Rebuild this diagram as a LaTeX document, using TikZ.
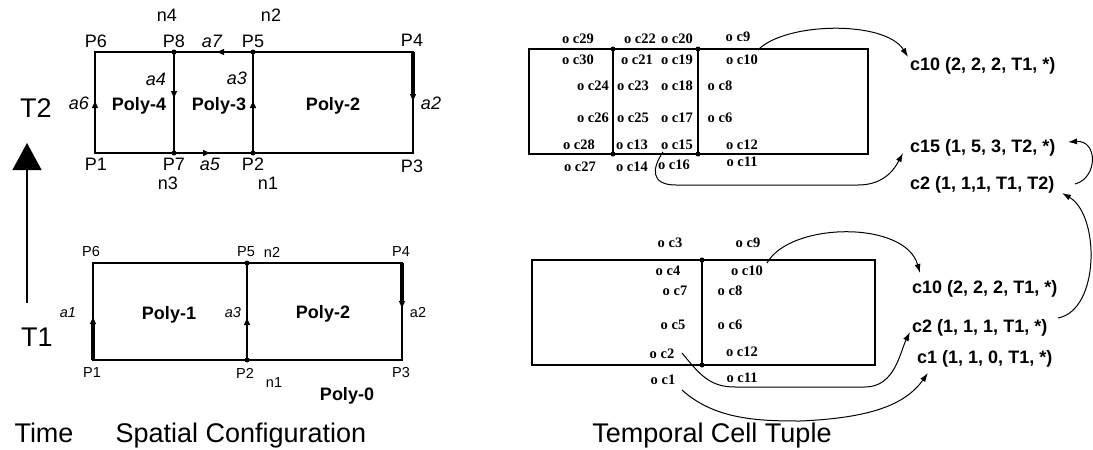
\documentclass[tikz,border=0pt]{standalone}
\usepackage{fontspec}
\setmainfont{Liberation Sans}
\newfontfamily\cellserif{Liberation Serif}
\usetikzlibrary{arrows.meta}
\begin{document}
\begin{tikzpicture}[x=1pt,y=-1pt,
  edge/.style={line width=1.3pt},
  thk/.style={line width=3.4pt},
  etip/.style={line width=1.3pt,-{Triangle[width=6pt,length=7pt]}},
  conn/.style={line width=1pt,-{Latex[length=9pt,width=6pt]}},
  lblt/.style={font=\fontsize{18}{18}\selectfont, inner sep=0pt},
  lblb/.style={font=\fontsize{14.5}{14.5}\selectfont, inner sep=0pt},
  poly/.style={font=\bfseries\fontsize{18}{18}\selectfont, inner sep=0pt, anchor=base},
  cell/.style={font=\cellserif\bfseries\fontsize{14.5}{14.5}\selectfont, inner sep=0pt},
  tup/.style={font=\bfseries\fontsize{18}{18}\selectfont, inner sep=0pt, anchor=base west},
  big/.style={font=\fontsize{27}{27}\selectfont, inner sep=0pt},
  dot/.style={circle, fill, inner sep=0pt, minimum size=5pt}]
\useasboundingbox (0,0) rectangle (1093,450);

% ---------- time axis ----------
\coordinate (ax0) at (27,303);
\coordinate (ax1) at (27,143);
\draw[line width=1.3pt,-{Triangle[width=29pt,length=27pt]}] (ax0) -- (ax1);
\node[big] (T2) at (36,108) {T2};
\node[big] (T1) at (37,337) {T1};
\node[big,anchor=base] (time) at (44,442) {Time};
\node[big,anchor=base] (spat) at (241,442) {Spatial Configuration};
\node[big,anchor=base] (temp) at (712,442) {Temporal Cell Tuple};

% ---------- T2 spatial configuration ----------
\coordinate (tP1) at (95,153);
\coordinate (tP7) at (174,153);
\coordinate (tP2) at (253,153);
\coordinate (tP3) at (413,153);
\coordinate (tP4) at (413,52);
\coordinate (tP5) at (253,52);
\coordinate (tP8) at (174,52);
\coordinate (tP6) at (95,52);
\draw[edge] (tP1) -- (tP3) -- (tP4) -- (tP6) -- cycle;
\draw[edge] (tP7) -- (tP8);
\draw[edge] (tP2) -- (tP5);
\coordinate (ta6) at (95,101);
\coordinate (ta4) at (174,98);
\coordinate (ta3) at (253,101);
\coordinate (ta7) at (217,52);
\coordinate (ta5) at (210,153);
\coordinate (ta2) at (413,101);
\draw[thk] (tP4) -- (413,94);
\draw[etip] (tP1) -- (ta6);
\draw[etip] (tP8) -- (ta4);
\draw[etip] (tP2) -- (ta3);
\draw[etip] (tP5) -- (ta7);
\draw[etip] (tP7) -- (ta5);
\draw[etip] (tP4) -- (ta2);
\foreach \p in {tP8,tP5,tP7,tP2} \node[dot] at (\p) {};

\node[lblt] (tn4) at (167,15) {n4};
\node[lblt] (tn2) at (271,15) {n2};
\node[lblt] (tlP6) at (96,41) {P6};
\node[lblt] (tlP8) at (174,41) {P8};
\node[lblt] (tla7) at (212,41) {\itshape a7};
\node[lblt] (tlP5) at (253,41) {P5};
\node[lblt] (tlP4) at (412,40) {P4};
\node[lblt] (tlP1) at (96,164) {P1};
\node[lblt] (tlP7) at (174,164) {P7};
\node[lblt] (tla5) at (210,164) {\itshape a5};
\node[lblt] (tlP2) at (253,164) {P2};
\node[lblt] (tlP3) at (412,166) {P3};
\node[lblt] (tn3) at (168,183) {n3};
\node[lblt] (tn1) at (268,183) {n1};
\node[lblt] (tla6) at (79,103) {\itshape a6};
\node[lblt] (tla4) at (156,79) {\itshape a4};
\node[lblt] (tla3) at (237,78) {\itshape a3};
\node[lblt] (tla2) at (431,103) {\itshape a2};
\node[poly] (tp4) at (139,110) {Poly-4};
\node[poly] (tp3) at (219,110) {Poly-3};
\node[poly] (tp2) at (333,110) {Poly-2};

% ---------- T1 spatial configuration ----------
\coordinate (bP1) at (93,360);
\coordinate (bP2) at (247,360);
\coordinate (bP3) at (402,360);
\coordinate (bP4) at (402,263);
\coordinate (bP5) at (247,263);
\coordinate (bP6) at (93,263);
\draw[edge] (bP1) -- (bP3) -- (bP4) -- (bP6) -- cycle;
\draw[edge] (bP2) -- (bP5);
\coordinate (ba1) at (93,317);
\coordinate (ba3) at (247,318);
\coordinate (ba2) at (402,308);
\draw[thk] (bP1) -- (93,323);
\draw[thk] (bP4) -- (402,302);
\draw[etip] (bP1) -- (ba1);
\draw[etip] (bP2) -- (ba3);
\draw[etip] (bP4) -- (ba2);
\foreach \p in {bP5,bP2} \node[dot] at (\p) {};

\node[lblb] (blP6) at (91,252) {P6};
\node[lblb] (blP5) at (246,252) {P5};
\node[lblb] (bn2) at (272,252) {n2};
\node[lblb] (blP4) at (401,252) {P4};
\node[lblb] (blP1) at (92,373) {P1};
\node[lblb] (blP2) at (245,373) {P2};
\node[lblb] (bn1) at (274,383) {n1};
\node[lblb] (blP3) at (401,373) {P3};
\node[lblb] (bla1) at (68,313) {\itshape a1};
\node[lblb] (bla3) at (233,313) {\itshape a3};
\node[lblb] (bla2) at (418,313) {a2};
\node[poly] (bp1) at (169,319) {Poly-1};
\node[poly] (bp2) at (323,318) {Poly-2};
\node[poly] (bp0) at (347,400) {Poly-0};

% ---------- T2 temporal cells ----------
\coordinate (uA) at (529,49);
\coordinate (uB) at (868,49);
\coordinate (uC) at (868,154);
\coordinate (uD) at (529,154);
\coordinate (uV1t) at (613,49);
\coordinate (uV1b) at (613,154);
\coordinate (uV2t) at (698,49);
\coordinate (uV2b) at (698,154);
\draw[edge] (uA) -- (uB) -- (uC) -- (uD) -- cycle;
\draw[edge] (uV1t) -- (uV1b);
\draw[edge] (uV2t) -- (uV2b);
\foreach \p in {uV1t,uV1b,uV2t,uV2b} \node[dot] at (\p) {};

\node[cell] (uc29) at (578,39) {o c29};
\node[cell] (uc22) at (640,39) {o c22};
\node[cell] (uc20) at (677,39) {o c20};
\node[cell] (uc9)  at (738,37) {o c9};
\node[cell] (uc30) at (578,60) {o c30};
\node[cell] (uc21) at (637,60) {o c21};
\node[cell] (uc19) at (677,60) {o c19};
\node[cell] (uc10) at (742,60) {o c10};
\node[cell] (uc24) at (593,86) {o c24};
\node[cell] (uc23) at (633,86) {o c23};
\node[cell] (uc18) at (677,86) {o c18};
\node[cell] (uc8)  at (720,86) {o c8};
\node[cell] (uc26) at (593,118) {o c26};
\node[cell] (uc25) at (633,118) {o c25};
\node[cell] (uc17) at (677,118) {o c17};
\node[cell] (uc6)  at (720,118) {o c6};
\node[cell] (uc28) at (579,145) {o c28};
\node[cell] (uc13) at (632,145) {o c13};
\node[cell] (uc15) at (677,145) {o c15};
\node[cell] (uc12) at (742,145) {o c12};
\node[cell] (uc27) at (580,167) {o c27};
\node[cell] (uc14) at (632,167) {o c14};
\node[cell] (uc16) at (674,165) {o c16};
\node[cell] (uc11) at (742,162) {o c11};

\node[tup] (ut10) at (910,70) {c10 (2, 2, 2, T1, *)};
\node[tup] (ut15) at (910,152) {c15 (1, 5, 3, T2, *)};
\node[tup] (ut2)  at (910,189) {c2 (1, 1,1, T1, T2)};

% ---------- T1 temporal cells ----------
\coordinate (lA) at (532,260);
\coordinate (lB) at (875,260);
\coordinate (lC) at (875,365);
\coordinate (lD) at (532,365);
\coordinate (lVt) at (702,260);
\coordinate (lVb) at (702,365);
\draw[edge] (lA) -- (lB) -- (lC) -- (lD) -- cycle;
\draw[edge] (lVt) -- (lVb);
\foreach \p in {lVt,lVb} \node[dot] at (\p) {};

\node[cell] (lc3)  at (670,243) {o c3};
\node[cell] (lc9)  at (748,243) {o c9};
\node[cell] (lc4)  at (668,271) {o c4};
\node[cell] (lc10) at (747,271) {o c10};
\node[cell] (lc7)  at (675,291) {o c7};
\node[cell] (lc8)  at (730,291) {o c8};
\node[cell] (lc5)  at (673,325) {o c5};
\node[cell] (lc6)  at (730,325) {o c6};
\node[cell] (lc2)  at (662,354) {o c2};
\node[cell] (lc12) at (742,352) {o c12};
\node[cell] (lc1)  at (663,380) {o c1};
\node[cell] (lc11) at (742,378) {o c11};

\node[tup] (lt10) at (912,293) {c10 (2, 2, 2, T1, *)};
\node[tup] (lt2)  at (912,332) {c2 (1, 1, 1, T1, *)};
\node[tup] (lt1)  at (917,363) {c1 (1, 1, 0, T1, *)};

% ---------- connectors ----------
\coordinate (s1) at (758,50);   \coordinate (e1) at (908,57);
\draw[conn] (s1) .. controls (785,22) and (885,20) .. (e1);
\coordinate (s2) at (663,152);  \coordinate (e2) at (903,153);
\draw[conn] (s2) .. controls (652,168) and (650,185) .. (676,185) -- (858,185) .. controls (885,185) and (895,168) .. (e2);
\coordinate (s3) at (1058,318); \coordinate (e3) at (1062,193);
\draw[conn] (s3) .. controls (1100,310) and (1100,215) .. (e3);
\coordinate (s4) at (1075,184); \coordinate (e4) at (1068,142);
\draw[conn] (s4) .. controls (1098,178) and (1098,140) .. (e4);
\coordinate (s5) at (767,263);  \coordinate (e5) at (920,273);
\draw[conn] (s5) .. controls (790,222) and (905,220) .. (e5);
\coordinate (s6) at (682,353);  \coordinate (e6) at (910,332);
\draw[conn] (s6) .. controls (700,375) and (710,387) .. (735,387) -- (865,387) .. controls (895,387) and (900,352) .. (e6);
\coordinate (s7) at (682,390);  \coordinate (e7) at (928,373);
\draw[conn] (s7) .. controls (715,420) and (760,421) .. (800,421) .. controls (870,418) and (905,405) .. (e7);
\end{tikzpicture}
\end{document}
